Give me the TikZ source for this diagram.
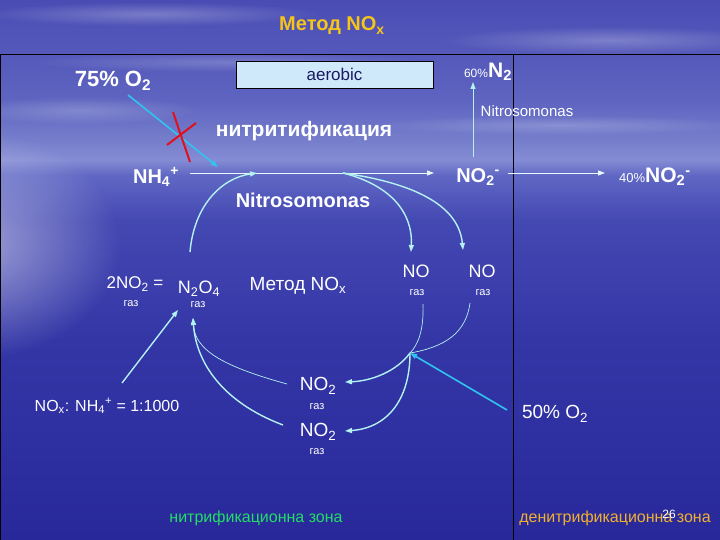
\documentclass[tikz,border=0pt]{standalone}
\usepackage{fontspec}
\setmainfont{Liberation Sans}
\usetikzlibrary{arrows.meta,fadings}
\definecolor{bgA}{HTML}{28289A}
\definecolor{bgB}{HTML}{3436A6}
\definecolor{bgC}{HTML}{4448B2}
\definecolor{bgD}{HTML}{6068C4}
\definecolor{bgE}{HTML}{858CD4}
\definecolor{bgF}{HTML}{767ECC}
\definecolor{bgG}{HTML}{5E64C0}
\definecolor{bgH}{HTML}{4A4CB4}
\definecolor{titleyellow}{HTML}{F5C518}
\definecolor{boxfill}{HTML}{CFE9FB}
\definecolor{boxtext}{HTML}{1A1A60}
\definecolor{linewhite}{HTML}{E8F8FF}
\definecolor{lightcyan}{HTML}{B4F2F2}
\definecolor{o2cyan}{HTML}{30C4F0}
\definecolor{xred}{HTML}{E0101C}
\definecolor{zonegreen}{HTML}{22DD66}
\definecolor{zoneorange}{HTML}{F0B030}
\pgfdeclareverticalshading{bgshade}{100bp}{color(0bp)=(bgA); color(25bp)=(bgA); color(43.5bp)=(bgB); color(54.6bp)=(bgC); color(58.8bp)=(bgD); color(60.2bp)=(bgE); color(62bp)=(bgF); color(65.7bp)=(bgG); color(75bp)=(bgH); color(100bp)=(bgH)}
\tikzfading[name=softglow, inner color=transparent!0, outer color=transparent!100]
\begin{document}
\begin{tikzpicture}[x=1pt,y=-1pt,
  lbl/.style={text=white, inner sep=0.5pt, font=\fontsize{19}{22}\selectfont},
  blbl/.style={text=white, inner sep=0.5pt, font=\bfseries\fontsize{20}{24}\selectfont},
  gas/.style={text=white, inner sep=0pt, font=\fontsize{11}{13}\selectfont},
  wline/.style={draw=linewhite, line width=0.9pt},
  warrow/.style={wline, -{Triangle[length=7pt,width=5pt]}},
  ccurve/.style={draw=lightcyan, line width=1.4pt},
  carrowc/.style={ccurve, -{Triangle[length=7pt,width=5pt]}},
  cthin/.style={draw=lightcyan, line width=0.7pt},
  o2arrow/.style={draw=o2cyan, line width=1.6pt, -{Triangle[length=7pt,width=5pt]}},
  cloud/.style={fill=white, path fading=softglow}]
\useasboundingbox (0,0) rectangle (720,540);
% background
\shade[shading=bgshade] (0,0) rectangle (720,540);
\fill[cloud, opacity=0.25] (150,14) ellipse [x radius=170, y radius=12];
\fill[cloud, opacity=0.25] (610,40) ellipse [x radius=170, y radius=14];
\fill[cloud, opacity=0.2] (230,62) ellipse [x radius=200, y radius=10];
\fill[cloud, opacity=0.2] (80,110) ellipse [x radius=120, y radius=14];
\fill[cloud, opacity=0.2] (560,125) ellipse [x radius=190, y radius=10];
\fill[cloud, opacity=0.5] (-30,245) ellipse [x radius=150, y radius=115];
% frame lines
\draw[black, line width=0.8pt] (0,54) -- (720,54);
\draw[black, line width=0.8pt] (0.6,54) -- (0.6,540);
\draw[black, line width=0.8pt] (513,54) -- (513,540);
% title
\node[text=titleyellow, inner sep=0pt, font=\bfseries\fontsize{20}{23}\selectfont] (title) at (332,26) {Метод NO\textsubscript{x}};
% aerobic box
\node[draw=black, line width=0.8pt, fill=boxfill, text=boxtext, minimum width=197pt, minimum height=27pt, inner sep=0pt, font=\fontsize{17}{20}\selectfont] (aer) at (334.5,74.5) {aerobic};
% labels top
\node[blbl, font=\bfseries\fontsize{22}{25}\selectfont] (o2a) at (113,81) {75\% O\textsubscript{2}};
\node[blbl, font=\bfseries\fontsize{21}{24}\selectfont] (nitri) at (304,131) {нитритификация};
\node[blbl] (nh4) at (156,177) {NH\textsubscript{4}\textsuperscript{+}};
\node[blbl] (no2m) at (478,177) {NO\textsubscript{2}\textsuperscript{-}};
\node[text=white, inner sep=0.5pt] (no2r) at (655,177) {{\fontsize{13}{15}\selectfont 40\%}{\bfseries\fontsize{21}{24}\selectfont NO\textsubscript{2}\textsuperscript{-}}};
\node[text=white, inner sep=0.5pt] (n2) at (488,72) {{\fontsize{12}{14}\selectfont 60\%}{\bfseries\fontsize{21}{24}\selectfont N\textsubscript{2}}};
\node[text=white, inner sep=0pt, font=\fontsize{15}{18}\selectfont] (nitroS) at (527,111) {Nitrosomonas};
\node[blbl] (nitroB) at (303,200) {Nitrosomonas};
% red cross and blocked O2 arrow
\coordinate (o2s) at (128,95);
\coordinate (o2e) at (218,167);
\draw[o2arrow] (o2s) -- (o2e);
\coordinate (x1a) at (173,112); \coordinate (x1b) at (190,162);
\coordinate (x2a) at (196,123); \coordinate (x2b) at (167,145);
\draw[xred, line width=2pt] (x1a) -- (x1b);
\draw[xred, line width=2pt] (x2a) -- (x2b);
% main horizontal arrows
\coordinate (h1s) at (190,173); \coordinate (h1e) at (434,173);
\draw[warrow] (h1s) -- (h1e);
\coordinate (h2s) at (508,173); \coordinate (h2e) at (605,173);
\draw[warrow] (h2s) -- (h2e);
\coordinate (vs) at (473,157); \coordinate (ve) at (473,82);
\draw[warrow, draw=lightcyan] (vs) -- (ve);
% middle labels
\node[lbl, font=\fontsize{17}{20}\selectfont] (no2eq) at (135,284) {2NO\textsubscript{2} =};
\node[gas] (g1) at (131,304) {газ};
\node[lbl, font=\fontsize{18}{21}\selectfont] (n2o4) at (199,289) {N\textsubscript{2}O\textsubscript{4}};
\node[gas] (g2) at (198,305) {газ};
\node[lbl] (metod) at (298,286) {Метод NO\textsubscript{x}};
\node[lbl, font=\fontsize{18}{21}\selectfont] (noL) at (416,271) {NO};
\node[gas] (g3) at (417,293) {газ};
\node[lbl, font=\fontsize{18}{21}\selectfont] (noR) at (482,271) {NO};
\node[gas] (g4) at (483,293) {газ};
\node[lbl] (no2a) at (318,386) {NO\textsubscript{2}};
\node[gas] (g5) at (317,407) {газ};
\node[lbl] (no2b) at (318,432) {NO\textsubscript{2}};
\node[gas] (g6) at (317,452) {газ};
\node[lbl, font=\fontsize{16}{19}\selectfont] (ratio) at (107,406) {NO\textsubscript{x}: NH\textsubscript{4}\textsuperscript{+} = 1:1000};
\node[lbl] (o2b) at (555,414) {50\% O\textsubscript{2}};
% zones
\node[text=zonegreen, inner sep=0pt, font=\fontsize{16}{19}\selectfont] (zone1) at (256,518) {нитрификационна зона};
\node[text=zoneorange, inner sep=0pt, font=\fontsize{16}{19}\selectfont] (zone2) at (615,518) {денитрификационна зона};
\node[text=white, inner sep=0pt, font=\fontsize{12}{14}\selectfont] (pg) at (669,514) {26};
% curved connectors
\coordinate (c1s) at (190,252); \coordinate (c1e) at (257,173);
\draw[carrowc] (c1s) .. controls (194,205) and (222,178) .. (c1e);
\coordinate (c2s) at (343,173);
\coordinate (c2e) at (411,252); \coordinate (c3e) at (463,250);
\draw[carrowc] (c2s) .. controls (390,185) and (413,212) .. (c2e);
\draw[carrowc] (c2s) .. controls (420,184) and (459,208) .. (c3e);
\coordinate (j) at (410,353);
\coordinate (nl) at (423,304); \coordinate (nr) at (470,303);
\draw[cthin] (nl) .. controls (424,330) and (418,345) .. (j);
\draw[cthin] (nr) .. controls (466,333) and (445,347) .. (j);
\coordinate (a1e) at (345,382); \coordinate (a2e) at (345,431);
\draw[carrowc] (j) .. controls (397,371) and (372,381) .. (a1e);
\draw[carrowc] (j) .. controls (410,400) and (387,428) .. (a2e);
\coordinate (o2bs) at (507,410);
\draw[o2arrow] (o2bs) -- (j);
\coordinate (rs) at (122,383); \coordinate (re) at (178,310);
\draw[carrowc] (rs) -- (re);
\coordinate (t1s) at (287,384); \coordinate (t2s) at (283,425);
\coordinate (ne) at (193,318);
\draw[cthin, -{Triangle[length=7pt,width=5pt]}] (t1s) .. controls (222,366) and (195,350) .. (ne);
\draw[carrowc] (t2s) .. controls (222,402) and (196,362) .. (ne);
\end{tikzpicture}
\end{document}
